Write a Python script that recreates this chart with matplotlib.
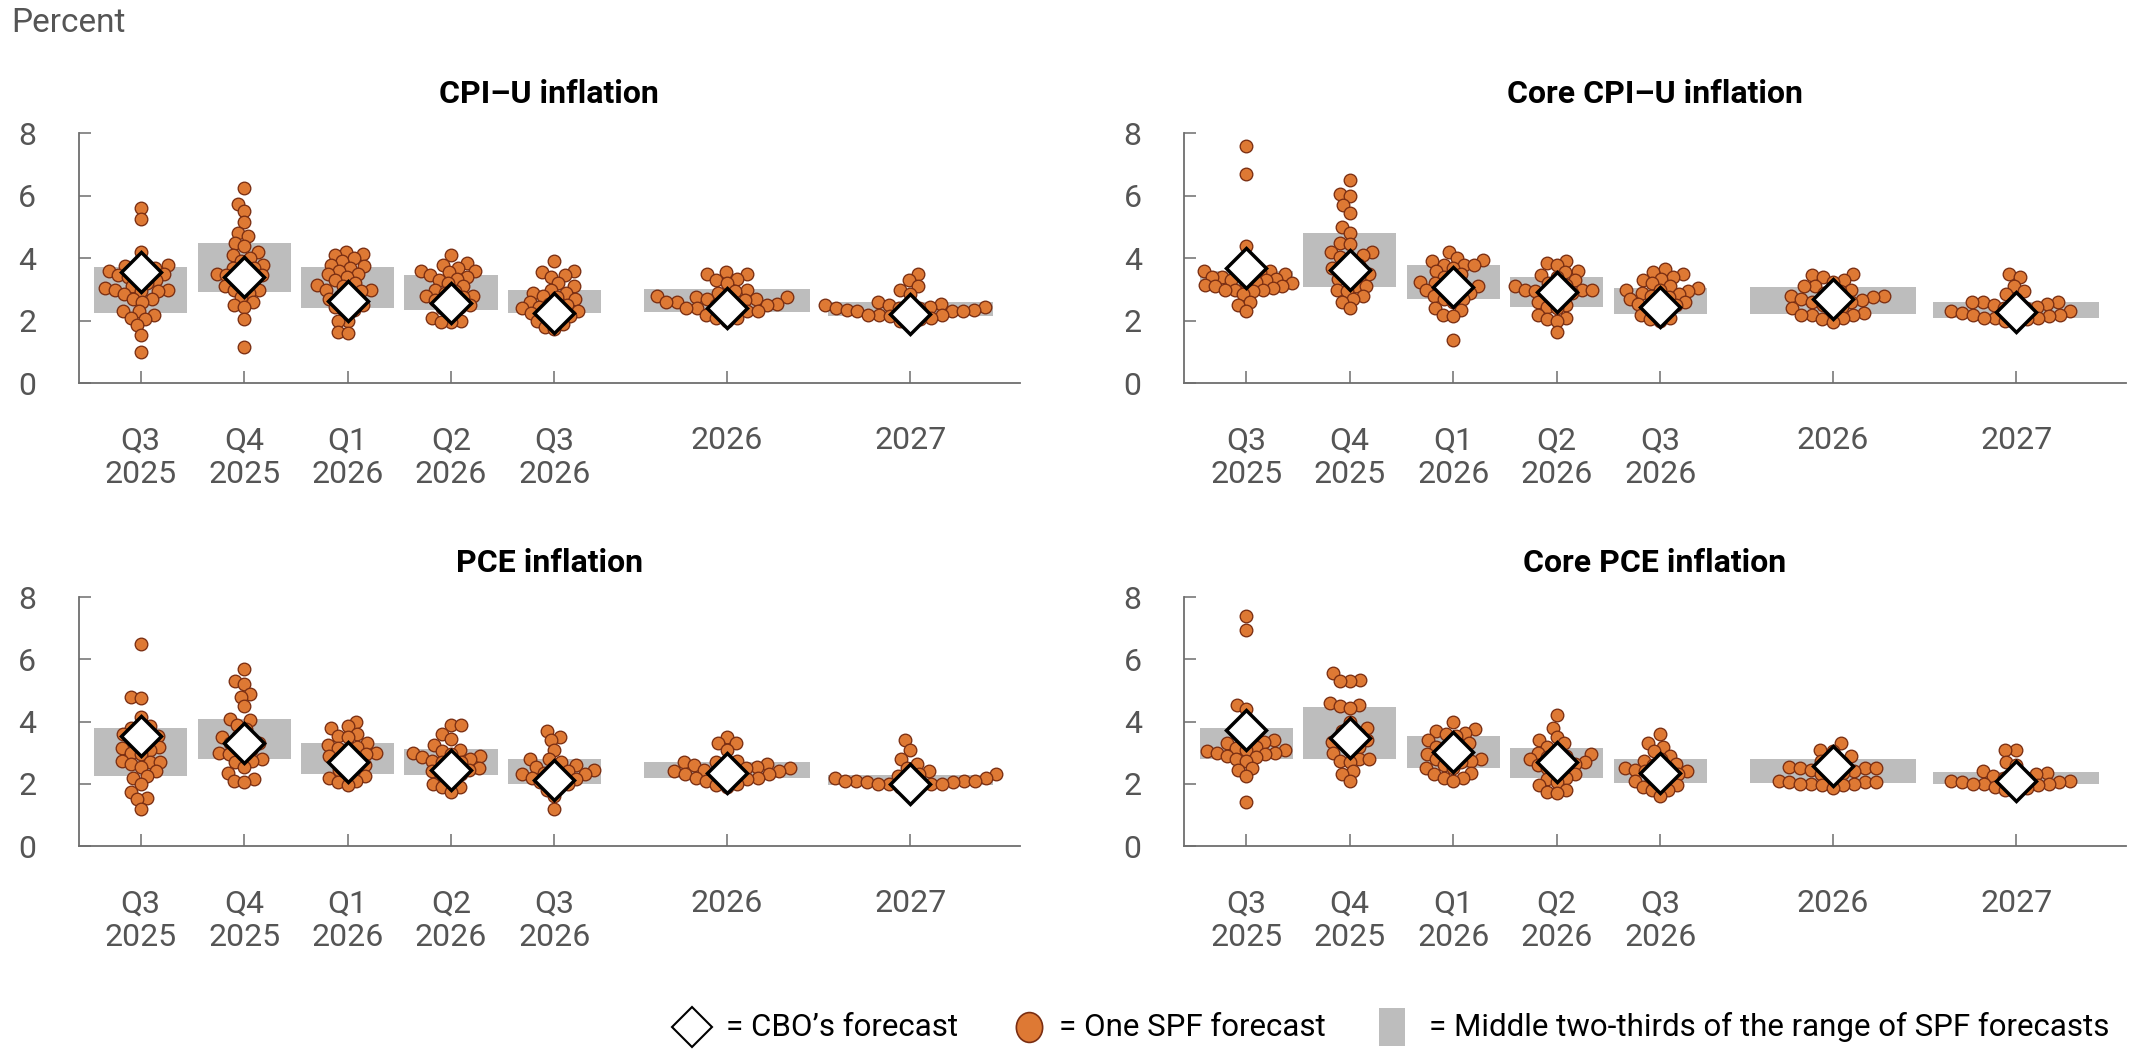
import numpy as np
import matplotlib
matplotlib.use("Agg")
import matplotlib.pyplot as plt
from matplotlib.lines import Line2D
from matplotlib.patches import Rectangle
from matplotlib.markers import MarkerStyle
from matplotlib.transforms import Affine2D
from matplotlib import font_manager as fm

# ---------------- data ----------------
categories = ["Q3\n2025", "Q4\n2025", "Q1\n2026", "Q2\n2026", "Q3\n2026", "2026", "2027"]
panel_titles = ["CPI\u2013U inflation", "Core CPI\u2013U inflation", "PCE inflation", "Core PCE inflation"]

# CPI-U inflation
cpi_spf = [
    [5.6, 5.25, 4.2, 3.85, 3.8, 3.75, 3.7, 3.65, 3.6, 3.55, 3.5, 3.45, 3.4, 3.35, 3.3, 3.2, 3.1,
     3.05, 3.0, 3.0, 2.95, 2.95, 2.85, 2.7, 2.7, 2.6, 2.3, 2.3, 2.2, 2.1, 2.05, 1.85, 1.55, 1.0],
    [6.25, 5.75, 5.5, 5.15, 4.8, 4.7, 4.5, 4.4, 4.2, 4.1, 4.0, 3.9, 3.8, 3.7, 3.7, 3.6, 3.5, 3.45,
     3.45, 3.4, 3.3, 3.2, 3.1, 3.0, 3.0, 2.9, 2.75, 2.6, 2.5, 2.45, 2.05, 1.15],
    [4.2, 4.15, 4.1, 4.0, 3.9, 3.8, 3.75, 3.7, 3.6, 3.5, 3.5, 3.4, 3.3, 3.2, 3.15, 3.1, 3.0, 3.0,
     2.95, 2.9, 2.8, 2.7, 2.6, 2.5, 2.45, 2.35, 2.3, 2.0, 2.0, 1.65, 1.6],
    [4.1, 3.85, 3.8, 3.7, 3.6, 3.6, 3.55, 3.45, 3.4, 3.35, 3.3, 3.2, 3.1, 3.0, 2.95, 2.9, 2.8, 2.8,
     2.75, 2.65, 2.65, 2.5, 2.45, 2.4, 2.3, 2.1, 2.0, 1.95, 1.95],
    [3.9, 3.6, 3.55, 3.45, 3.4, 3.2, 3.1, 3.0, 2.9, 2.9, 2.8, 2.75, 2.7, 2.6, 2.55, 2.5, 2.45, 2.4,
     2.4, 2.3, 2.25, 2.2, 2.15, 2.1, 2.0, 1.9, 1.8, 1.75],
    [3.55, 3.5, 3.5, 3.35, 3.3, 3.2, 3.0, 2.95, 2.9, 2.8, 2.75, 2.75, 2.7, 2.7, 2.7, 2.65, 2.6, 2.6,
     2.55, 2.5, 2.5, 2.45, 2.4, 2.4, 2.35, 2.3, 2.3, 2.2, 2.1, 2.1, 2.0],
    [3.5, 3.3, 3.1, 3.0, 2.85, 2.6, 2.55, 2.5, 2.5, 2.45, 2.45, 2.4, 2.4, 2.4, 2.35, 2.35, 2.3, 2.3,
     2.3, 2.25, 2.2, 2.2, 2.2, 2.15, 2.1, 2.05, 2.0, 1.9],
]
cpi_band_low = [2.26, 2.91, 2.40, 2.35, 2.26, 2.29, 2.15]
cpi_band_high = [3.73, 4.48, 3.73, 3.47, 3.00, 3.01, 2.59]
cpi_cbo = [3.55, 3.41, 2.63, 2.56, 2.26, 2.40, 2.22]

# Core CPI-U inflation
core_cpi_spf = [
    [7.6, 6.7, 4.4, 3.9, 3.7, 3.6, 3.6, 3.55, 3.5, 3.5, 3.45, 3.4, 3.4, 3.35, 3.3, 3.3, 3.25, 3.2,
     3.2, 3.15, 3.1, 3.1, 3.05, 3.0, 3.0, 3.0, 2.95, 2.85, 2.6, 2.5, 2.3],
    [6.5, 6.05, 6.0, 5.7, 5.45, 5.0, 4.8, 4.5, 4.45, 4.2, 4.2, 4.1, 4.05, 3.95, 3.8, 3.7, 3.65, 3.6,
     3.5, 3.4, 3.35, 3.3, 3.1, 3.1, 3.0, 2.95, 2.8, 2.7, 2.6, 2.4],
    [4.2, 4.0, 3.95, 3.9, 3.8, 3.8, 3.8, 3.7, 3.6, 3.5, 3.4, 3.3, 3.25, 3.2, 3.1, 3.1, 3.05, 3.0,
     2.95, 2.9, 2.8, 2.7, 2.7, 2.6, 2.4, 2.35, 2.2, 2.15, 1.4],
    [3.9, 3.85, 3.8, 3.6, 3.55, 3.45, 3.4, 3.3, 3.2, 3.15, 3.1, 3.05, 3.0, 3.0, 3.0, 2.95, 2.9, 2.85,
     2.8, 2.7, 2.6, 2.5, 2.45, 2.4, 2.2, 2.1, 2.05, 2.0, 1.65],
    [3.65, 3.55, 3.5, 3.4, 3.35, 3.3, 3.2, 3.1, 3.05, 3.0, 3.0, 2.95, 2.9, 2.85, 2.8, 2.75, 2.7, 2.65,
     2.6, 2.55, 2.5, 2.45, 2.4, 2.3, 2.2, 2.1, 2.05, 2.0],
    [3.5, 3.45, 3.4, 3.3, 3.25, 3.1, 3.1, 3.0, 2.95, 2.9, 2.8, 2.8, 2.75, 2.7, 2.7, 2.65, 2.6, 2.6,
     2.5, 2.45, 2.4, 2.3, 2.25, 2.2, 2.2, 2.2, 2.1, 2.05, 1.95],
    [3.5, 3.4, 3.1, 2.95, 2.85, 2.7, 2.6, 2.6, 2.6, 2.55, 2.5, 2.45, 2.4, 2.4, 2.35, 2.3, 2.3, 2.25,
     2.2, 2.2, 2.15, 2.1, 2.1, 2.1, 2.05, 2.0, 2.0],
]
core_cpi_band_low = [3.00, 3.09, 2.70, 2.45, 2.22, 2.21, 2.10]
core_cpi_band_high = [3.60, 4.82, 3.79, 3.39, 3.04, 3.09, 2.61]
core_cpi_cbo = [3.68, 3.63, 3.09, 2.93, 2.45, 2.70, 2.29]

# PCE inflation
pce_spf = [
    [6.5, 4.8, 4.75, 4.15, 3.85, 3.8, 3.7, 3.6, 3.55, 3.5, 3.45, 3.3, 3.2, 3.15, 3.1, 3.0, 2.95, 2.75,
     2.7, 2.7, 2.65, 2.55, 2.4, 2.25, 2.2, 2.0, 1.75, 1.55, 1.5, 1.2],
    [5.7, 5.3, 5.2, 4.9, 4.8, 4.5, 4.1, 4.05, 3.9, 3.75, 3.55, 3.5, 3.4, 3.3, 3.3, 3.2, 3.1, 3.0,
     2.95, 2.9, 2.8, 2.75, 2.7, 2.55, 2.35, 2.15, 2.1, 2.05],
    [4.0, 3.85, 3.8, 3.6, 3.55, 3.5, 3.3, 3.25, 3.2, 3.15, 3.1, 3.0, 2.95, 2.9, 2.85, 2.8, 2.7, 2.6,
     2.5, 2.45, 2.3, 2.25, 2.2, 2.1, 2.05, 1.95],
    [3.9, 3.9, 3.6, 3.45, 3.25, 3.1, 3.05, 3.0, 2.95, 2.9, 2.85, 2.8, 2.75, 2.7, 2.7, 2.6, 2.5, 2.45,
     2.4, 2.3, 2.25, 2.2, 2.0, 1.9, 1.9, 1.75],
    [3.7, 3.5, 3.4, 3.1, 2.8, 2.8, 2.7, 2.6, 2.55, 2.5, 2.45, 2.4, 2.35, 2.3, 2.3, 2.25, 2.2, 2.15,
     2.1, 2.05, 2.0, 1.9, 1.8, 1.6, 1.2],
    [3.5, 3.3, 3.3, 3.1, 2.75, 2.7, 2.7, 2.65, 2.6, 2.6, 2.55, 2.5, 2.5, 2.45, 2.4, 2.4, 2.35, 2.35,
     2.3, 2.3, 2.25, 2.2, 2.2, 2.15, 2.1, 2.0, 1.95, 1.9],
    [3.4, 3.1, 2.8, 2.65, 2.5, 2.4, 2.3, 2.3, 2.25, 2.2, 2.2, 2.15, 2.1, 2.1, 2.1, 2.1, 2.05, 2.05,
     2.0, 2.0, 2.0, 2.0, 1.95, 1.9, 1.8],
]
pce_band_low = [2.25, 2.79, 2.31, 2.28, 1.99, 2.18, 1.96]
pce_band_high = [3.79, 4.09, 3.30, 3.11, 2.79, 2.69, 2.28]
pce_cbo = [3.55, 3.30, 2.71, 2.45, 2.12, 2.34, 1.99]

# Core PCE inflation
core_pce_spf = [
    [7.4, 6.95, 4.55, 4.4, 3.8, 3.7, 3.5, 3.4, 3.35, 3.3, 3.2, 3.15, 3.1, 3.1, 3.05, 3.0, 3.0, 2.95,
     2.9, 2.85, 2.8, 2.75, 2.5, 2.45, 2.25, 1.4],
    [5.55, 5.35, 5.3, 5.3, 4.6, 4.55, 4.5, 4.45, 4.0, 3.8, 3.7, 3.6, 3.5, 3.4, 3.35, 3.3, 3.2, 3.1,
     3.0, 2.8, 2.8, 2.75, 2.7, 2.4, 2.3, 2.1],
    [4.0, 3.75, 3.7, 3.65, 3.6, 3.55, 3.4, 3.3, 3.25, 3.2, 3.1, 3.0, 2.95, 2.9, 2.8, 2.8, 2.75, 2.7,
     2.6, 2.5, 2.5, 2.35, 2.3, 2.2, 2.2, 2.1],
    [4.2, 3.8, 3.5, 3.4, 3.3, 3.2, 3.1, 3.0, 2.95, 2.9, 2.85, 2.8, 2.75, 2.7, 2.65, 2.6, 2.55, 2.5,
     2.4, 2.3, 2.2, 2.15, 2.05, 1.95, 1.8, 1.75, 1.7],
    [3.6, 3.3, 3.2, 3.05, 2.9, 2.8, 2.75, 2.65, 2.6, 2.55, 2.5, 2.45, 2.4, 2.4, 2.35, 2.3, 2.2, 2.15,
     2.1, 2.0, 1.95, 1.9, 1.8, 1.8, 1.6],
    [3.3, 3.1, 3.05, 2.9, 2.75, 2.7, 2.6, 2.55, 2.5, 2.5, 2.5, 2.45, 2.4, 2.35, 2.3, 2.25, 2.1, 2.05,
     2.05, 2.05, 2.0, 2.0, 2.0, 1.95, 1.95, 1.85],
    [3.1, 3.1, 2.7, 2.6, 2.4, 2.35, 2.3, 2.25, 2.2, 2.2, 2.15, 2.1, 2.1, 2.05, 2.05, 2.0, 2.0, 2.0,
     1.95, 1.9, 1.85, 1.8, 1.8],
]
core_pce_band_low = [2.79, 2.79, 2.50, 2.20, 2.02, 2.04, 1.98]
core_pce_band_high = [3.79, 4.48, 3.54, 3.14, 2.79, 2.79, 2.39]
core_pce_cbo = [3.73, 3.49, 3.03, 2.71, 2.34, 2.58, 2.10]

yticks = [0, 2, 4, 6, 8]
legend_labels = ["= CBO\u2019s forecast", "= One SPF forecast",
                 "= Middle two-thirds of the range of SPF forecasts"]

# ---------------- style / layout ----------------
names = {f.name for f in fm.fontManager.ttflist}
FONT = "DejaVu Sans"
for cand in ["Roboto", "Liberation Sans", "DejaVu Sans"]:
    if cand in names:
        FONT = cand
        break
plt.rcParams["font.family"] = [FONT, "DejaVu Sans"]

W, H = 2136, 1049
DPI = 100
fig = plt.figure(figsize=(W / DPI, H / DPI), dpi=DPI)
fig.patch.set_facecolor("white")

x_pos = [0, 1, 2, 3, 4, 5.667, 7.44]
band_w = [0.9, 0.9, 0.9, 0.9, 0.9, 1.6, 1.6]
swarm_gap = [10.0, 10.0, 10.0, 10.0, 10.0, 11.0, 11.0]   # px between dot centres
XLIM = (-0.6, 8.5)

ORANGE = "#DE7934"
ORANGE_EDGE = "#7A2E12"
GRAY_BAND = "#BDBDBD"
AXIS_C = "#6E6E6E"
TICKLABEL_C = "#555555"

# axes rectangles in pixels: (left, top, right, bottom)
rects = [
    (78.6, 133.3, 1020.0, 383.3),
    (1184.0, 133.3, 2126.0, 383.3),
    (78.6, 597.3, 1020.0, 846.0),
    (1184.0, 597.3, 2126.0, 846.0),
]
title_pads = [22, 22, 18.5, 18.5]

panels = [
    (cpi_spf, cpi_band_low, cpi_band_high, cpi_cbo),
    (core_cpi_spf, core_cpi_band_low, core_cpi_band_high, core_cpi_cbo),
    (pce_spf, pce_band_low, pce_band_high, pce_cbo),
    (core_pce_spf, core_pce_band_low, core_pce_band_high, core_pce_cbo),
]

DOT_D_PX = 12.6      # dot diameter in pixels


def swarm_offsets(ypix, d):
    order = np.argsort(ypix, kind="stable")
    xs = np.zeros(len(ypix))
    px_l, py_l = [], []
    for i in order:
        y = ypix[i]
        cands = [0.0]
        for px, py in zip(px_l, py_l):
            dy = abs(py - y)
            if dy < d:
                dx = np.sqrt(d * d - dy * dy)
                cands += [px - dx, px + dx]
        cands.sort(key=lambda c: (abs(c), c))
        for c in cands:
            ok = True
            for px, py in zip(px_l, py_l):
                if (c - px) ** 2 + (y - py) ** 2 < d * d - 1e-6:
                    ok = False
                    break
            if ok:
                xs[i] = c
                break
        px_l.append(xs[i])
        py_l.append(y)
    return xs


dot_s = (DOT_D_PX * 72 / DPI) ** 2

for k, (spf, blo, bhi, cbo) in enumerate(panels):
    l, t, r, b = rects[k]
    ax = fig.add_axes([l / W, 1 - b / H, (r - l) / W, (b - t) / H])
    ax.set_xlim(*XLIM)
    ax.set_ylim(0, 8)
    ax.set_facecolor("none")

    # bands
    for j in range(len(categories)):
        ax.add_patch(Rectangle((x_pos[j] - band_w[j] / 2, blo[j]), band_w[j], bhi[j] - blo[j],
                               facecolor=GRAY_BAND, edgecolor="none", zorder=1))

    # swarms
    for j in range(len(categories)):
        vals = np.array(spf[j], dtype=float)
        pts = ax.transData.transform(np.column_stack([np.full(len(vals), x_pos[j]), vals]))
        offs = swarm_offsets(pts[:, 1], swarm_gap[j])
        dat = ax.transData.inverted().transform(np.column_stack([pts[:, 0] + offs, pts[:, 1]]))
        ax.scatter(dat[:, 0], dat[:, 1], s=dot_s, facecolor=ORANGE, edgecolor=ORANGE_EDGE,
                   linewidth=0.95, zorder=3)

    # CBO diamonds
    ax.plot(x_pos, cbo, linestyle="none", marker="D", markersize=20.5, markerfacecolor="white",
            markeredgecolor="black", markeredgewidth=2.5, zorder=5)

    for s in ["top", "right"]:
        ax.spines[s].set_visible(False)
    for s in ["left", "bottom"]:
        ax.spines[s].set_color(AXIS_C)
        ax.spines[s].set_linewidth(1.3)

    ax.set_yticks(yticks)
    ax.set_yticklabels([str(v) for v in yticks])
    ax.set_xticks(x_pos)
    ax.set_xticklabels(categories, linespacing=1.2)
    ax.tick_params(axis="both", direction="in", length=8.6, width=1.1, color=AXIS_C,
                   labelsize=23, labelcolor=TICKLABEL_C)
    ax.tick_params(axis="y", pad=30.5)
    ax.tick_params(axis="x", pad=31)
    ax.set_title(panel_titles[k], fontsize=23, fontweight="bold", pad=title_pads[k], color="black")

fig.text(11 / W, 1 - 31.7 / H, "Percent", fontsize=24, color=TICKLABEL_C, ha="left", va="baseline")

# ---------------- legend (bottom right) ----------------
ly = 1 - 1027 / H
fig.add_artist(Line2D([692 / W], [ly], transform=fig.transFigure, linestyle="none", marker="D",
                      markersize=20.5, markerfacecolor="white", markeredgecolor="black",
                      markeredgewidth=1.5))
fig.text(726 / W, ly, legend_labels[0], fontsize=22.5, color="black", ha="left", va="center")
ell = MarkerStyle("o", transform=Affine2D().scale(0.88, 1.0))
fig.add_artist(Line2D([1029 / W], [ly], transform=fig.transFigure, linestyle="none", marker=ell,
                      markersize=21.5, markerfacecolor=ORANGE, markeredgecolor=ORANGE_EDGE,
                      markeredgewidth=1.2))
fig.text(1059 / W, ly, legend_labels[1], fontsize=22.5, color="black", ha="left", va="center")
fig.add_artist(Rectangle(((1392 - 13) / W, ly - 19 / H), 26 / W, 38 / H, transform=fig.transFigure,
                         facecolor=GRAY_BAND, edgecolor="none"))
fig.text(1429 / W, ly, legend_labels[2], fontsize=22.5, color="black", ha="left", va="center")

fig.savefig("out.png", dpi=DPI, facecolor="white")
